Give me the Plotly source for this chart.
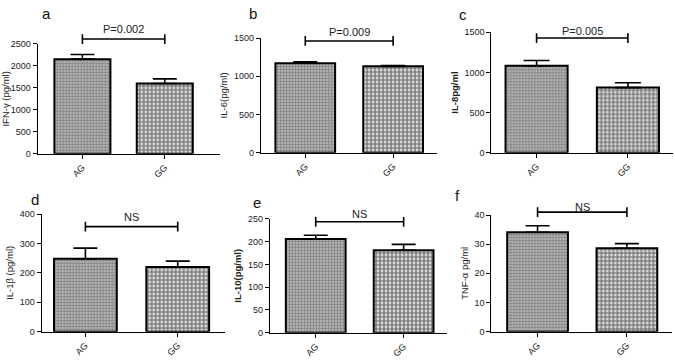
import plotly.graph_objects as go

categories = ["AG", "GG"]

panel_letters = ["a", "b", "c", "d", "e", "f"]
y_titles = ["IFN-γ (pg/ml)", "IL-6(pg/ml)", "<b>IL-8pg/ml</b>", "IL-1β (pg/ml)", "<b>IL-10(pg/ml)</b>", "TNF-α pg/ml"]
p_labels = ["P=0.002", "P=0.009", "P=0.005", "NS", "NS", "NS"]

means = [
    [2153, 1600],
    [1172, 1130],
    [1083, 811],
    [248, 220],
    [206, 181],
    [34.1, 28.6],
]
sems = [
    [104, 104],
    [17, 12],
    [65, 61],
    [36, 20],
    [8, 13],
    [2.2, 1.6],
]
y_max = [2500, 1500, 1500, 400, 250, 40]
y_dtick = [500, 500, 500, 100, 50, 10]

# layout (pixel geometry of each panel)
W, H = 675, 360
x_px = [(33, 217), (258, 435), (490, 673), (37, 222), (267, 445), (490, 672)]
y_px = [(153, 40), (152, 34), (152, 28), (336, 215), (337, 220), (336, 216)]
x_ranges = [(-0.542, 1.675), (-0.503, 1.497), (-0.495, 1.494), (-0.473, 1.516), (-0.52, 1.49), (-0.517, 1.505)]
bracket_y = [35, 37, 34, 228, 223, 213]
ptext_y = [25, 28, 27, 218, 215, 208]
letter_pos = [(42, 9), (250, 9), (461, 10), (30, 200), (254, 203), (456, 196)]
cap_w = [12, 12, 13, 12, 12, 12]

FONT = "Liberation Sans, Arial, sans-serif"

fig = go.Figure()
shapes = []
annotations = []

patterns = [
    dict(shape="+", fgcolor="#555555", bgcolor="#b2b2b2", size=3, solidity=0.45),
    dict(shape=".", fgcolor="#000000", bgcolor="#ffffff", size=4, solidity=0.7),
]

for i in range(6):
    sfx = "" if i == 0 else str(i + 1)
    xa, ya = "x" + sfx, "y" + sfx
    for j, cat in enumerate(categories):
        fig.add_trace(go.Bar(
            x=[cat], y=[means[i][j]],
            xaxis=xa, yaxis=ya,
            width=0.68,
            marker=dict(color="white", line=dict(color="black", width=2),
                        pattern=patterns[j]),
            error_y=dict(type="data", array=[sems[i][j]], arrayminus=[0],
                         symmetric=False, color="black", thickness=1.6,
                         width=cap_w[i]),
            showlegend=False,
            hoverinfo="skip",
        ))
    (x0, x1), (yb, yt) = x_px[i], y_px[i]
    common = dict(showgrid=False, zeroline=False, showline=True, linecolor="black",
                  linewidth=1.3, ticks="outside", ticklen=4, tickwidth=1.2,
                  tickcolor="black", tickfont=dict(family=FONT, size=9, color="#222"))
    fig.update_layout(**{
        "xaxis" + sfx: dict(common, domain=[x0 / W, x1 / W], anchor=ya,
                           range=list(x_ranges[i]), type="category",
                           categoryorder="array", categoryarray=categories,
                           tickangle=-45),
        "yaxis" + sfx: dict(common, domain=[1 - yb / H, 1 - yt / H], anchor=xa,
                           range=[0, y_max[i]], dtick=y_dtick[i], tick0=0,
                           title=dict(text=y_titles[i],
                                      font=dict(family=FONT, size=9.5, color="#222"),
                                      standoff=4)),
    })
    # significance bracket
    by = 1 - bracket_y[i] / H
    shapes.append(dict(type="line", xref=xa, yref="paper", x0=0, x1=1, y0=by, y1=by,
                       line=dict(color="black", width=1.6)))
    for xx in (0, 1):
        shapes.append(dict(type="line", xref=xa, yref="paper", x0=xx, x1=xx,
                           y0=by - 5 / H, y1=by + 5 / H, line=dict(color="black", width=1.6)))
    annotations.append(dict(text=p_labels[i], xref=xa, yref="paper", x=0.5,
                            y=1 - ptext_y[i] / H, showarrow=False,
                            xanchor="center", yanchor="middle",
                            font=dict(family=FONT, size=11, color="#222")))
    lx, ly = letter_pos[i]
    annotations.append(dict(text=panel_letters[i], xref="paper", yref="paper",
                            x=lx / W, y=1 - ly / H, showarrow=False,
                            xanchor="center", yanchor="middle",
                            font=dict(family=FONT, size=15, color="#111")))

fig.update_layout(
    width=W, height=H, autosize=False,
    margin=dict(l=0, r=0, t=0, b=0),
    paper_bgcolor="white", plot_bgcolor="white",
    shapes=shapes, annotations=annotations,
    barmode="overlay",
)

fig.write_html("out.html", config={"displayModeBar": False},
               post_script="document.body.style.margin='0';document.body.style.overflow='hidden';")
